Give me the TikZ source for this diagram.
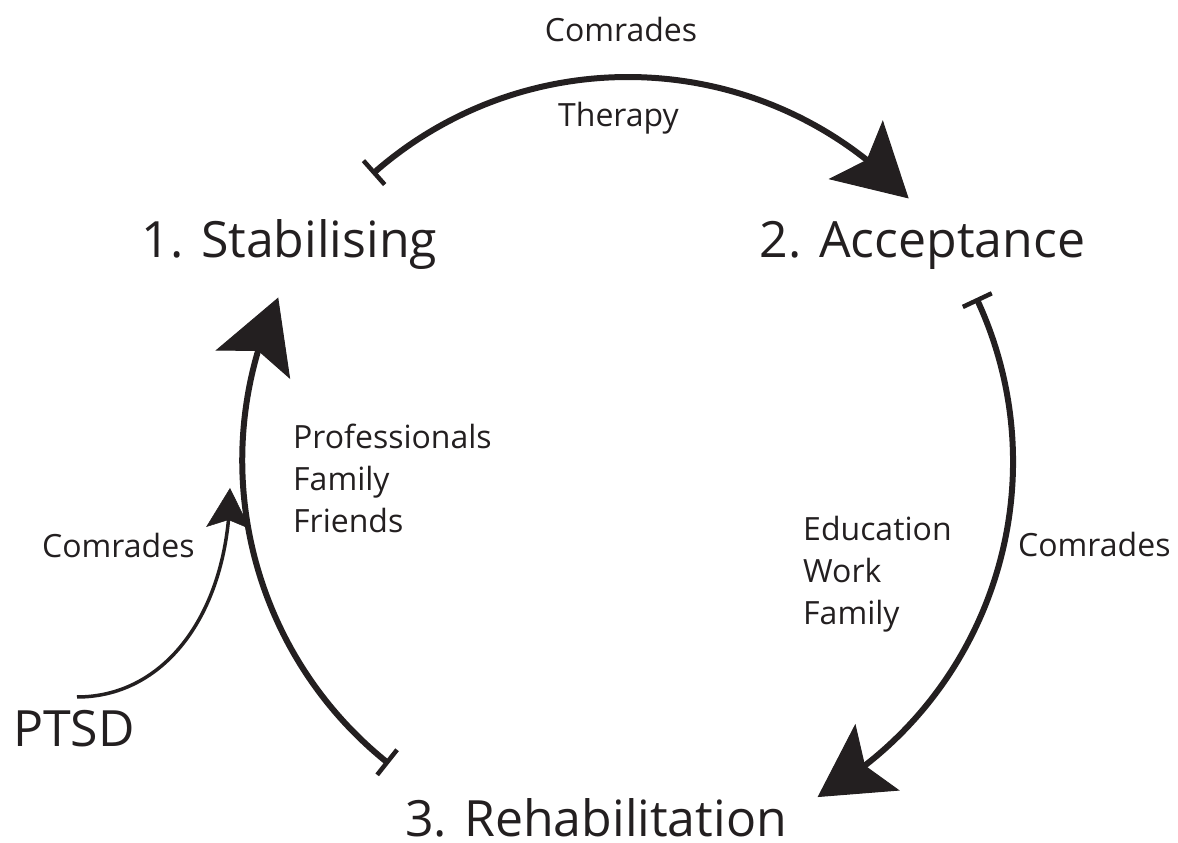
\documentclass[tikz,border=0pt]{standalone}
\usepackage{fontspec}
\setmainfont{Open Sans}
\usetikzlibrary{arrows.meta,bending,calc}
\definecolor{ink}{HTML}{231F20}
\begin{document}
\begin{tikzpicture}[x=1pt,y=1pt,
  big/.style={font=\fontsize{50}{60}\selectfont, text=ink, inner sep=0pt},
  small/.style={font=\fontsize{32}{42}\selectfont, text=ink, inner sep=0pt},
  cyc/.style={line width=6pt, draw=ink,
    {Bar[width=32pt,line width=4.5pt]}-{Stealth[length=72pt,width=80pt,inset=15pt,line width=1pt]}},
  feed/.style={line width=3.5pt, draw=ink,
    -{Stealth[length=40pt,width=44pt,inset=8pt,line width=0.5pt]}}]
\useasboundingbox (0,0) rectangle (1178,843);

% stage labels
\node[big, anchor=base] (s1) at (289.5,585) {1. Stabilising};
\node[big, anchor=base] (s2) at (922.5,585) {2. Acceptance};
\node[big, anchor=base] (s3) at (596,6) {3. Rehabilitation};
\node[big, anchor=base west] (ptsd) at (13,96) {PTSD};

% small labels
\node[small, anchor=base] (comtop) at (621,801) {Comrades};
\node[small, anchor=base] (ther) at (618.5,716) {Therapy};
\node[small, anchor=base west] (pro) at (293,394) {Professionals};
\node[small, anchor=base west] (fam1) at (293,352) {Family};
\node[small, anchor=base west] (fri) at (293,310) {Friends};
\node[small, anchor=base west] (edu) at (803,302) {Education};
\node[small, anchor=base west] (work) at (803,260) {Work};
\node[small, anchor=base west] (fam2) at (803,218) {Family};
\node[small, anchor=base west] (comr) at (1018,286) {Comrades};
\node[small, anchor=base west] (coml) at (42,285) {Comrades};

% cycle arcs
\coordinate (O) at (628,381);
\coordinate (t1) at ($(O)+(131.6:385)$);
\coordinate (r1) at ($(O)+(25.2:385)$);
\coordinate (l1) at ($(O)+(231.6:385)$);
\draw[cyc] (t1) arc[start angle=131.6, end angle=43.2, radius=385];
\draw[cyc] (r1) arc[start angle=25.2, end angle=-60.5, radius=385];
\draw[cyc] (l1) arc[start angle=231.6, end angle=155.1, radius=387];

% PTSD feed arrow
\coordinate (p0) at (77,146);
\coordinate (p1) at (230,355);
\draw[feed] (p0) .. controls (168,146) and (230,235) .. (p1);
\end{tikzpicture}
\end{document}
